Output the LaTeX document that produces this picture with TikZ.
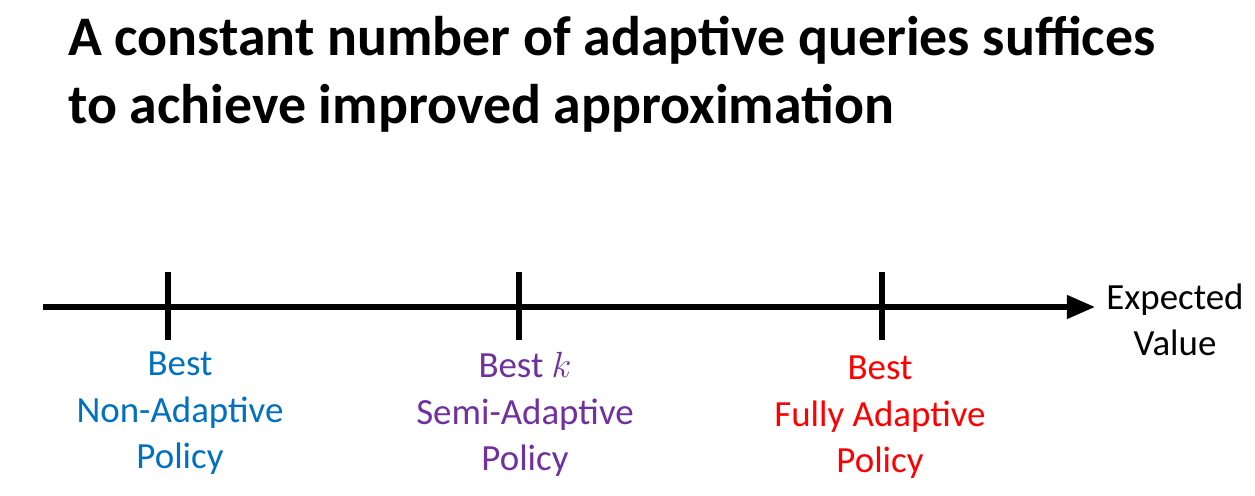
\documentclass[tikz,border=0pt]{standalone}
\usepackage{fontspec}
\setmainfont{Carlito}
\usetikzlibrary{arrows.meta}
\definecolor{nonblue}{RGB}{0,112,192}
\definecolor{semipurple}{RGB}{112,48,160}
\definecolor{fullred}{RGB}{255,0,0}
\begin{document}
\begin{tikzpicture}[x=0.02cm, y=-0.02cm,
    tick/.style={line width=3.2pt},
    policy/.style={align=center, font=\fontsize{21}{26.5}\selectfont, anchor=north}]
    \useasboundingbox (0,0) rectangle (1255,496);
    % title
    \node [anchor=north west, align=left, font=\fontsize{31.8}{38.5}\bfseries\selectfont] (title) at (62,10)
        {A constant number of adaptive queries suffices\\to achieve improved approximation};
    % axis
    \coordinate (start) at (43,307);
    \node [align=center, font=\fontsize{21}{26.5}\selectfont] (axislabel) at (1175,320) {Expected\\Value};
    \draw [line width=2.9pt, -{Triangle[length=16pt,width=13pt]}] (start) -- (1095,307);
    % ticks
    \foreach \x/\name in {168/non, 519/semi, 882/full}
        \draw [tick] (\x,272) -- (\x,340) coordinate (\name);
    \node [policy, text=nonblue] (nonlabel) at (180,346) {Best\\Non-Adaptive\\Policy};
    \node [policy, text=semipurple] (semilabel) at (525,346) {Best $k$\\Semi-Adaptive\\Policy};
    \node [policy, text=fullred] (fulllabel) at (880,350) {Best\\Fully Adaptive\\Policy};
\end{tikzpicture}
\end{document}
